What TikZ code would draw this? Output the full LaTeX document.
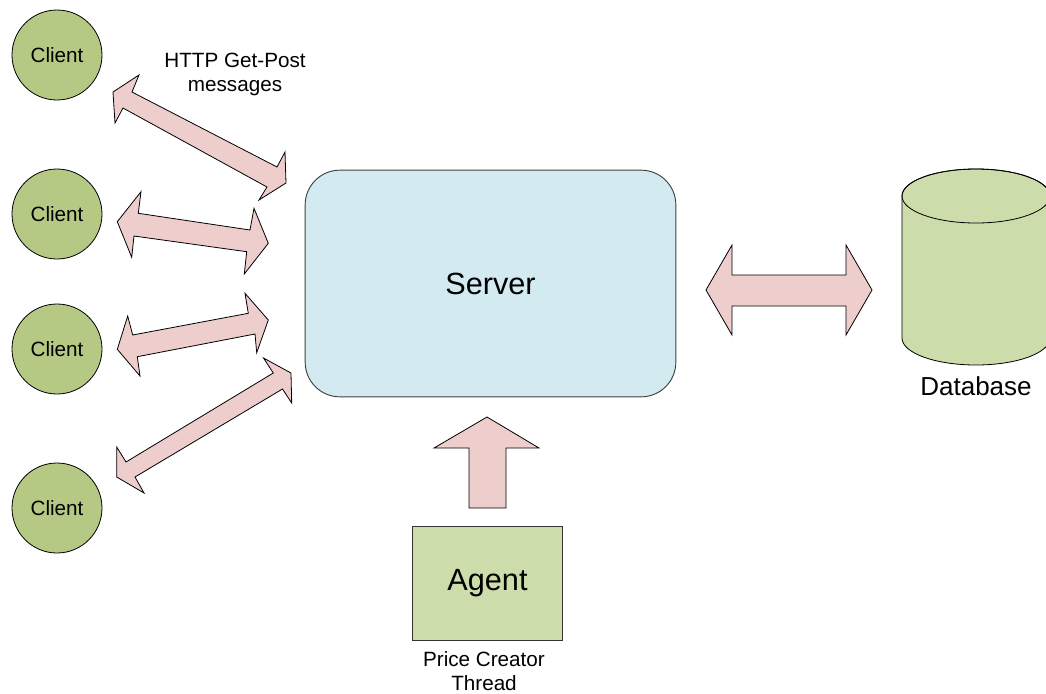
\documentclass[tikz,border=0pt]{standalone}
\usepackage{fontspec}
\setmainfont{Liberation Sans}
\definecolor{clientgreen}{RGB}{181,201,133}
\definecolor{lightgreen}{RGB}{204,220,170}
\definecolor{servercyan}{RGB}{210,234,240}
\definecolor{arrowpink}{RGB}{238,205,205}
\begin{document}
\begin{tikzpicture}[x=0.75pt,y=-0.75pt,
  clientnode/.style={circle,draw=black,line width=0.6pt,fill=clientgreen,minimum size=67.5pt,inner sep=0pt,font=\fontsize{15.5}{18}\selectfont},
  servernode/.style={rectangle,rounded corners=26pt,draw=black!75,line width=0.7pt,fill=servercyan,minimum width=278pt,minimum height=170pt,inner sep=0pt,font=\fontsize{23}{27}\selectfont},
  agentnode/.style={rectangle,draw=black!80,line width=0.6pt,fill=lightgreen,minimum width=113pt,minimum height=85pt,inner sep=0pt,font=\fontsize{23}{27}\selectfont},
  blockarrow/.style={draw=black,line width=0.6pt,fill=arrowpink,line join=miter},
  smalllabel/.style={align=center,inner sep=0pt,font=\fontsize{15.5}{18}\selectfont},
  dblabel/.style={inner sep=0pt,font=\fontsize{19.5}{23}\selectfont}]
\useasboundingbox (0,0) rectangle (1046,693);
% clients
\node[clientnode] (c1) at (57,55) {Client};
\node[clientnode] (c2) at (57,214) {Client};
\node[clientnode] (c3) at (57,349) {Client};
\node[clientnode] (c4) at (57,508) {Client};
% server
\node[servernode] (server) at (490.5,283.5) {Server};
% agent
\node[agentnode] (agent) at (487.5,583.5) {Agent};
\node[smalllabel] (agentlbl) at (484,671) {Price Creator\\Thread};
% http label
\node[smalllabel] (http) at (235,74) {HTTP Get-Post\\messages};
% database cylinder
\path[draw=black,line width=0.6pt,fill=lightgreen] (902,196) -- (902,338)
  arc[start angle=180,end angle=360,x radius=55.5pt,y radius=20.25pt]
  -- (1050,196)
  arc[start angle=0,end angle=180,x radius=55.5pt,y radius=20.25pt] -- cycle;
\draw[line width=0.6pt] (976,196) ellipse[x radius=55.5pt,y radius=20.25pt];
\coordinate (db) at (976,267);
\node[dblabel] (dblbl) at (976,386) {Database};
% client arrows
\draw[blockarrow] (113,92) -- (139,75) -- (132,92) -- (277,167) -- (285,152) -- (286,183)
  -- (259,200) -- (267,187) -- (123,108) -- (115,123) -- cycle;
\draw[blockarrow] (117.3,221.7) -- (141,191.7) -- (138.3,213.3) -- (250,230) -- (254,208.3)
  -- (268.3,243.3) -- (244.3,274) -- (246.7,251.7) -- (134,236) -- (131.7,257.3) -- cycle;
\draw[blockarrow] (117.3,349.3) -- (127.7,316) -- (132.7,335) -- (248.3,313.3) -- (245,293.3)
  -- (268.3,320) -- (256.7,352.7) -- (255,334) -- (137.3,356.7) -- (140,376) -- cycle;
\draw[blockarrow] (116.7,477) -- (144,493) -- (135,477) -- (282.5,389) -- (291.7,403)
  -- (291,373) -- (263.5,358) -- (273.3,373) -- (126,462) -- (116.7,447) -- cycle;
% server - database arrow
\draw[blockarrow] (706,290) -- (732,245) -- (732,275) -- (846,275) -- (846,245) -- (872,290)
  -- (846,335) -- (846,306) -- (732,306) -- (732,335) -- cycle;
% agent - server arrow
\draw[blockarrow] (487,417) -- (539,448) -- (506,448) -- (506,508) -- (469,508) -- (469,448)
  -- (434,448) -- cycle;
\end{tikzpicture}
\end{document}
